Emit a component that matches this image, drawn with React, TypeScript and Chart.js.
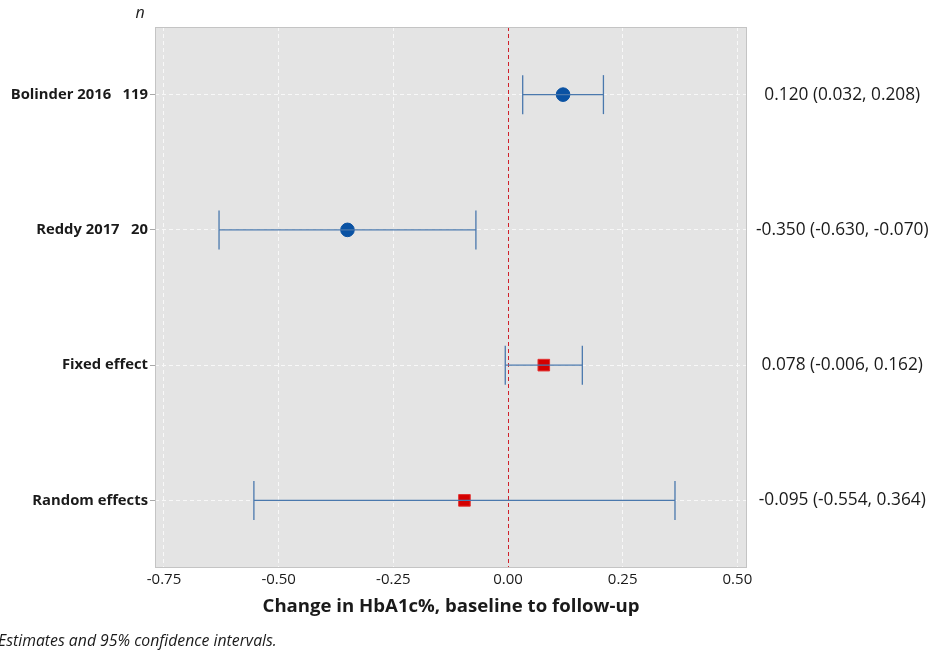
import React, { useEffect, useRef } from "react";
import { Chart, registerables } from "chart.js";

Chart.register(...registerables);

const studyNames = ["Bolinder 2016", "Reddy 2017", "Fixed effect", "Random effects"];
const nValues = ["119", "20", "", ""];
const estimates = [0.12, -0.35, 0.078, -0.095];
const lowerCI = [0.032, -0.63, -0.006, -0.554];
const upperCI = [0.208, -0.07, 0.162, 0.364];
const isPooled = [false, false, true, true];
const xTicks = [-0.75, -0.5, -0.25, 0, 0.25, 0.5];

const FONT = "'Open Sans', 'Noto Sans', sans-serif";
const ciColor = "#4a78ad";
const dotColor = "#0a52a3";
const squareColor = "#d40000";

const fmt3 = (v: number) => v.toFixed(3);
const rightLabels = estimates.map(
  (e, i) => `${fmt3(e)} (${fmt3(lowerCI[i])}, ${fmt3(upperCI[i])})`
);
const leftLabels = studyNames.map((s, i) => (nValues[i] ? `${s}   ${nValues[i]}` : s));

const framePlugin = {
  id: "frame",
  beforeDraw(chart: any) {
    const { ctx, chartArea } = chart;
    ctx.save();
    ctx.fillStyle = "#e4e4e4";
    ctx.fillRect(chartArea.left, chartArea.top, chartArea.right - chartArea.left, chartArea.bottom - chartArea.top);
    ctx.restore();
  },
  beforeDatasetsDraw(chart: any) {
    const { ctx, chartArea, scales } = chart;
    const x0 = scales.x.getPixelForValue(0);
    ctx.save();
    ctx.strokeStyle = "#d0202a";
    ctx.lineWidth = 1;
    ctx.setLineDash([4, 3]);
    ctx.beginPath();
    ctx.moveTo(Math.round(x0) + 0.5, chartArea.top);
    ctx.lineTo(Math.round(x0) + 0.5, chartArea.bottom);
    ctx.stroke();
    ctx.setLineDash([]);
    ctx.strokeStyle = "#c4c4c4";
    ctx.lineWidth = 1;
    ctx.strokeRect(chartArea.left + 0.5, chartArea.top + 0.5, chartArea.right - chartArea.left - 1, chartArea.bottom - chartArea.top - 1);
    ctx.restore();
  },
  afterDraw(chart: any) {
    const { ctx } = chart;
    ctx.save();
    ctx.fillStyle = "#1a1a1a";
    ctx.textBaseline = "middle";
    ctx.textAlign = "center";
    ctx.font = `italic 16px ${FONT}`;
    ctx.fillText("n", 140, 13);
    ctx.textAlign = "left";
    ctx.font = `italic 15.8px ${FONT}`;
    ctx.fillText("Estimates and 95% confidence intervals.", -2, 641);
    ctx.restore();
  },
};

export default function App() {
  const ref = useRef<HTMLCanvasElement | null>(null);
  useEffect(() => {
    if (!ref.current) return;
    const ciDatasets = estimates.map((_, i) => ({
      type: "scatter" as const,
      data: [
        { x: lowerCI[i], y: i },
        { x: upperCI[i], y: i },
      ],
      showLine: true,
      borderColor: ciColor,
      backgroundColor: ciColor,
      borderWidth: 1.3,
      pointStyle: "line",
      pointRotation: 90,
      pointRadius: 19.5,
      pointBorderWidth: 1.3,
      pointBorderColor: ciColor,
    }));
    const studyPts = estimates
      .map((e, i) => ({ x: e, y: i, pooled: isPooled[i] }))
      .filter((p) => !p.pooled)
      .map((p) => ({ x: p.x, y: p.y }));
    const pooledPts = estimates
      .map((e, i) => ({ x: e, y: i, pooled: isPooled[i] }))
      .filter((p) => p.pooled)
      .map((p) => ({ x: p.x, y: p.y }));
    const chart = new Chart(ref.current, {
      type: "scatter",
      data: {
        datasets: [
          ...ciDatasets,
          {
            type: "scatter",
            data: studyPts,
            pointStyle: "circle",
            pointRadius: 6.8,
            backgroundColor: dotColor,
            borderColor: dotColor,
            borderWidth: 1,
          },
          {
            type: "scatter",
            data: pooledPts,
            pointStyle: "rect",
            pointRadius: 8.2,
            backgroundColor: squareColor,
            borderColor: "#e23030",
            borderWidth: 1,
          },
        ] as any,
      },
      options: {
        responsive: false,
        animation: false,
        layout: { padding: { top: 27, left: 0, right: 0, bottom: 0 } },
        plugins: {
          legend: { display: false },
          tooltip: { enabled: false },
          title: { display: false },
        },
        events: [],
        scales: {
          x: {
            type: "linear",
            min: -0.7696,
            max: 0.521,
            afterBuildTicks: (s: any) => {
              s.ticks = xTicks.map((v) => ({ value: v }));
            },
            afterFit: (s: any) => {
              s.height = 84;
            },
            grid: {
              color: "#f8f8f8",
              drawTicks: false,
              lineWidth: 1,
            },
            border: { display: false, dash: [4, 3] },
            ticks: {
              padding: 3,
              color: "#1a1a1a",
              font: { family: FONT, size: 15 },
              callback: (v: any) => Number(v).toFixed(2),
            },
            title: {
              display: true,
              text: "Change in HbA1c%, baseline to follow-up",
              color: "#1a1a1a",
              font: { family: FONT, size: 18.6, weight: "bold" },
              padding: { top: 0, bottom: 34 },
            },
          },
          y: {
            type: "linear",
            position: "left",
            reverse: true,
            min: -0.5,
            max: 3.5,
            afterBuildTicks: (s: any) => {
              s.ticks = studyNames.map((_, i) => ({ value: i }));
            },
            afterFit: (s: any) => {
              s.width = 155;
            },
            grid: {
              color: "#f8f8f8",
              drawTicks: true,
              tickLength: 5,
              tickColor: "#a8a8a8",
              tickBorderDash: [],
              lineWidth: 1,
            },
            border: { display: false, dash: [4, 3] },
            ticks: {
              padding: 2,
              color: "#1a1a1a",
              font: { family: FONT, size: 14.8, weight: "bold" },
              callback: (v: any) => leftLabels[Math.round(Number(v))] ?? "",
            },
          },
          y2: {
            type: "linear",
            position: "right",
            reverse: true,
            min: -0.5,
            max: 3.5,
            afterBuildTicks: (s: any) => {
              s.ticks = studyNames.map((_, i) => ({ value: i }));
            },
            afterFit: (s: any) => {
              s.width = 188;
            },
            grid: { display: false, drawTicks: false },
            border: { display: false },
            ticks: {
              padding: 9,
              crossAlign: "center",
              color: "#1a1a1a",
              font: { family: FONT, size: 17.3 },
              callback: (v: any) => rightLabels[Math.round(Number(v))] ?? "",
            },
          },
        },
      },
      plugins: [framePlugin],
    } as any);
    return () => chart.destroy();
  }, []);
  return (
    <div style={{ position: "absolute", left: 0, top: 0, width: 935, height: 652 }}>
      <canvas ref={ref} width={935} height={652} style={{ display: "block" }} />
    </div>
  );
}
